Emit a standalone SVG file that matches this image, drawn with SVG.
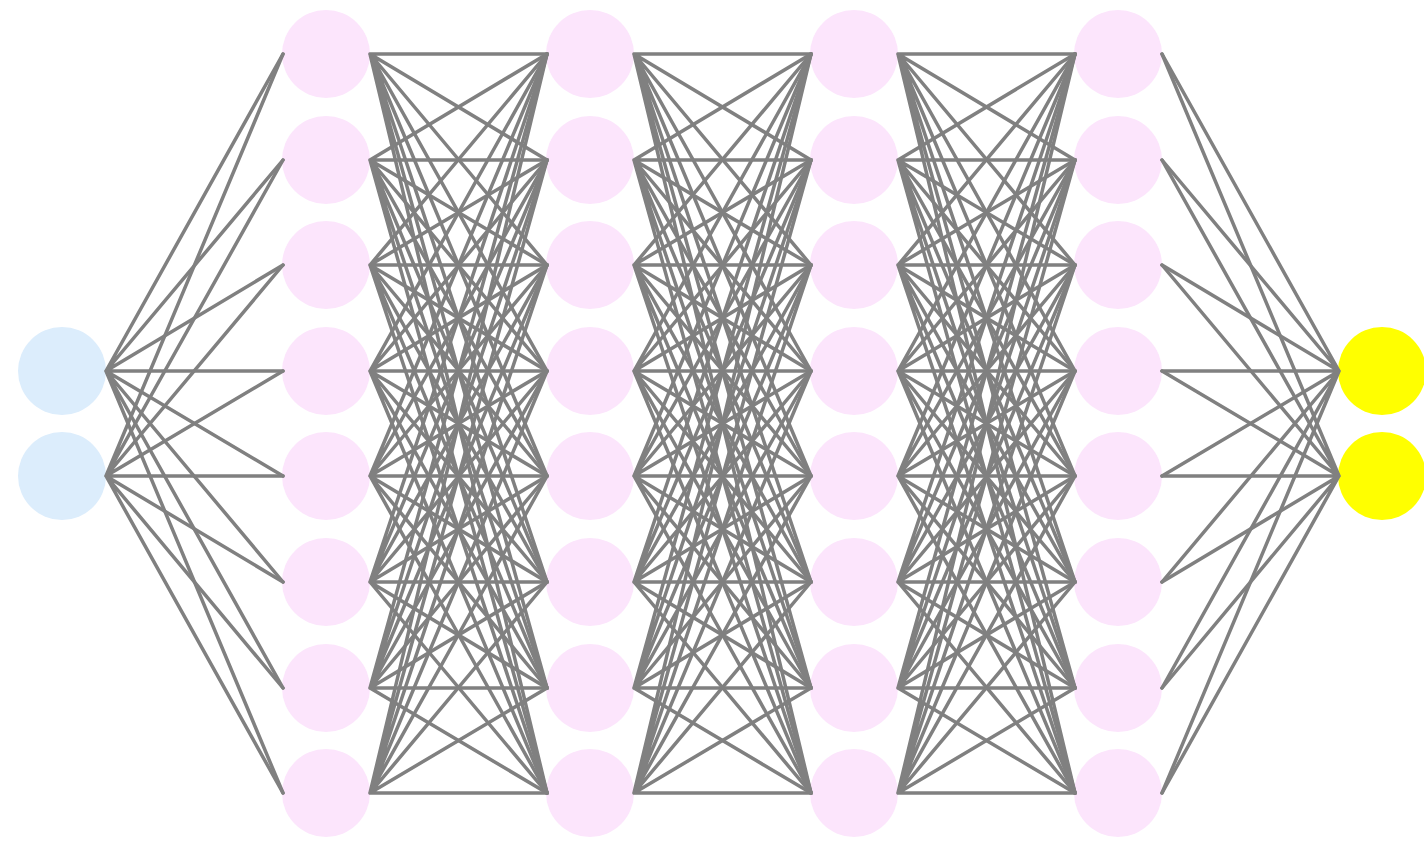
<svg xmlns="http://www.w3.org/2000/svg" xmlns:xlink="http://www.w3.org/1999/xlink" width="1424" height="842" viewBox="0 0 1424 842">
<style>
.in{fill:#dcedfc}
.hid{fill:#fce5fc}
.out{fill:#ffff00}
.e{fill:none;stroke:#808080;stroke-width:3.5;stroke-linecap:round}
</style>
<defs>
<g id="block">
<path class="e" d="M370 54L547 54M370 54L547 160M370 54L547 265M370 54L547 371M370 54L547 476M370 54L547 582M370 54L547 688M370 54L547 793"/>
<path class="e" d="M370 160L547 54M370 160L547 160M370 160L547 265M370 160L547 371M370 160L547 476M370 160L547 582M370 160L547 688M370 160L547 793"/>
<path class="e" d="M370 265L547 54M370 265L547 160M370 265L547 265M370 265L547 371M370 265L547 476M370 265L547 582M370 265L547 688M370 265L547 793"/>
<path class="e" d="M370 371L547 54M370 371L547 160M370 371L547 265M370 371L547 371M370 371L547 476M370 371L547 582M370 371L547 688M370 371L547 793"/>
<path class="e" d="M370 476L547 54M370 476L547 160M370 476L547 265M370 476L547 371M370 476L547 476M370 476L547 582M370 476L547 688M370 476L547 793"/>
<path class="e" d="M370 582L547 54M370 582L547 160M370 582L547 265M370 582L547 371M370 582L547 476M370 582L547 582M370 582L547 688M370 582L547 793"/>
<path class="e" d="M370 688L547 54M370 688L547 160M370 688L547 265M370 688L547 371M370 688L547 476M370 688L547 582M370 688L547 688M370 688L547 793"/>
<path class="e" d="M370 793L547 54M370 793L547 160M370 793L547 265M370 793L547 371M370 793L547 476M370 793L547 582M370 793L547 688M370 793L547 793"/>
</g>
</defs>
<rect width="1424" height="842" fill="#ffffff"/>
<g id="layer-input">
<g id="in1"><circle class="in" cx="62" cy="371" r="44"/></g>
<g id="in2"><circle class="in" cx="62" cy="476" r="44"/></g>
</g>
<g id="layer-h1">
<g id="h1n1"><circle class="hid" cx="326" cy="54" r="44"/></g>
<g id="h1n2"><circle class="hid" cx="326" cy="160" r="44"/></g>
<g id="h1n3"><circle class="hid" cx="326" cy="265" r="44"/></g>
<g id="h1n4"><circle class="hid" cx="326" cy="371" r="44"/></g>
<g id="h1n5"><circle class="hid" cx="326" cy="476" r="44"/></g>
<g id="h1n6"><circle class="hid" cx="326" cy="582" r="44"/></g>
<g id="h1n7"><circle class="hid" cx="326" cy="688" r="44"/></g>
<g id="h1n8"><circle class="hid" cx="326" cy="793" r="44"/></g>
</g>
<g id="layer-h2">
<g id="h2n1"><circle class="hid" cx="590" cy="54" r="44"/></g>
<g id="h2n2"><circle class="hid" cx="590" cy="160" r="44"/></g>
<g id="h2n3"><circle class="hid" cx="590" cy="265" r="44"/></g>
<g id="h2n4"><circle class="hid" cx="590" cy="371" r="44"/></g>
<g id="h2n5"><circle class="hid" cx="590" cy="476" r="44"/></g>
<g id="h2n6"><circle class="hid" cx="590" cy="582" r="44"/></g>
<g id="h2n7"><circle class="hid" cx="590" cy="688" r="44"/></g>
<g id="h2n8"><circle class="hid" cx="590" cy="793" r="44"/></g>
</g>
<g id="layer-h3">
<g id="h3n1"><circle class="hid" cx="854" cy="54" r="44"/></g>
<g id="h3n2"><circle class="hid" cx="854" cy="160" r="44"/></g>
<g id="h3n3"><circle class="hid" cx="854" cy="265" r="44"/></g>
<g id="h3n4"><circle class="hid" cx="854" cy="371" r="44"/></g>
<g id="h3n5"><circle class="hid" cx="854" cy="476" r="44"/></g>
<g id="h3n6"><circle class="hid" cx="854" cy="582" r="44"/></g>
<g id="h3n7"><circle class="hid" cx="854" cy="688" r="44"/></g>
<g id="h3n8"><circle class="hid" cx="854" cy="793" r="44"/></g>
</g>
<g id="layer-h4">
<g id="h4n1"><circle class="hid" cx="1118" cy="54" r="44"/></g>
<g id="h4n2"><circle class="hid" cx="1118" cy="160" r="44"/></g>
<g id="h4n3"><circle class="hid" cx="1118" cy="265" r="44"/></g>
<g id="h4n4"><circle class="hid" cx="1118" cy="371" r="44"/></g>
<g id="h4n5"><circle class="hid" cx="1118" cy="476" r="44"/></g>
<g id="h4n6"><circle class="hid" cx="1118" cy="582" r="44"/></g>
<g id="h4n7"><circle class="hid" cx="1118" cy="688" r="44"/></g>
<g id="h4n8"><circle class="hid" cx="1118" cy="793" r="44"/></g>
</g>
<g id="layer-output">
<g id="out1"><circle class="out" cx="1382" cy="371" r="44"/></g>
<g id="out2"><circle class="out" cx="1382" cy="476" r="44"/></g>
</g>
<g id="connectors">
<path class="e" d="M106 371L283 54M106 371L283 160M106 371L283 265M106 371L283 371M106 371L283 476M106 371L283 582M106 371L283 688M106 371L283 793"/>
<path class="e" d="M106 476L283 54M106 476L283 160M106 476L283 265M106 476L283 371M106 476L283 476M106 476L283 582M106 476L283 688M106 476L283 793"/>
<use xlink:href="#block" href="#block"/>
<use xlink:href="#block" href="#block" transform="translate(264,0)"/>
<use xlink:href="#block" href="#block" transform="translate(528,0)"/>
<path class="e" d="M1339 371L1162 54M1339 371L1162 160M1339 371L1162 265M1339 371L1162 371M1339 371L1162 476M1339 371L1162 582M1339 371L1162 688M1339 371L1162 793"/>
<path class="e" d="M1339 476L1162 54M1339 476L1162 160M1339 476L1162 265M1339 476L1162 371M1339 476L1162 476M1339 476L1162 582M1339 476L1162 688M1339 476L1162 793"/>
</g>
</svg>
